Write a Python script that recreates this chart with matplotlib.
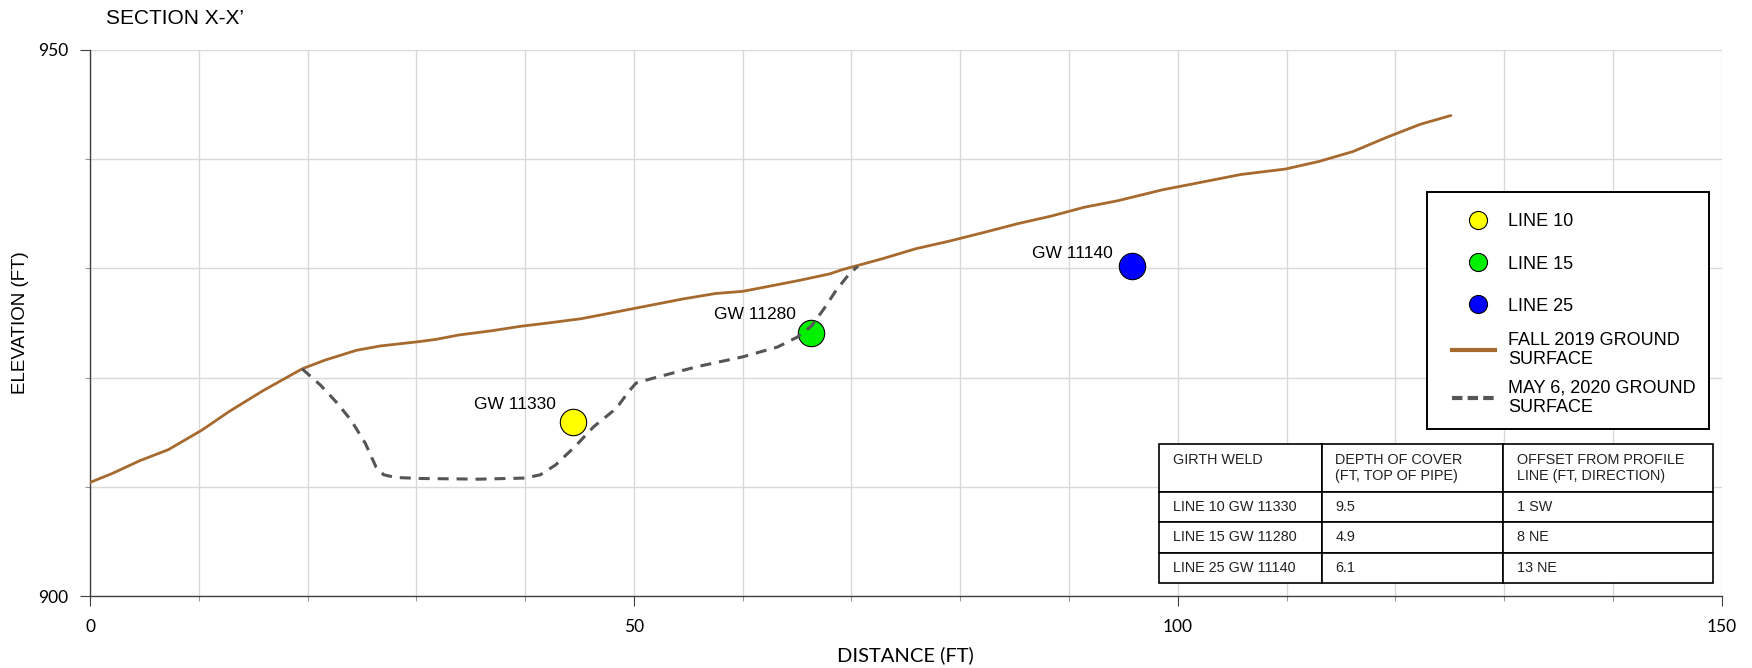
import matplotlib
matplotlib.use('Agg')
import numpy as np
import matplotlib.pyplot as plt
from matplotlib.lines import Line2D
from matplotlib.legend_handler import HandlerLine2D
from matplotlib.ticker import MultipleLocator

plt.rcParams['font.family'] = ['Liberation Sans', 'DejaVu Sans']

# FALL 2019 ground surface (distance ft, elevation ft)
fall_x = [0, 2.0, 4.6, 7.2, 10.3, 12.8, 15.9, 19.5, 21.6, 24.5, 26.7, 30.3, 31.8,
          33.9, 37.0, 39.6, 42.1, 45.2, 47.8, 51.4, 54.5, 57.5, 60.0, 62.1, 65.2,
          68.0, 69.2, 70.7, 72.9, 75.9, 79.0, 82.2, 85.3, 88.4, 91.4, 94.5, 98.6,
          101.7, 105.8, 109.9, 113.0, 116.1, 119.2, 122.3, 125.1]
fall_y = [910.4, 911.2, 912.4, 913.4, 915.2, 916.9, 918.8, 920.8, 921.6, 922.5, 922.9,
          923.3, 923.5, 923.9, 924.3, 924.7, 925.0, 925.4, 925.9, 926.6, 927.2, 927.7,
          927.9, 928.3, 928.9, 929.5, 929.9, 930.3, 930.9, 931.8, 932.5, 933.3, 934.1,
          934.8, 935.6, 936.2, 937.2, 937.8, 938.6, 939.1, 939.8, 940.7, 942.0, 943.2,
          944.0]

# MAY 6, 2020 ground surface
may_x = [19.5, 21.2, 22.6, 24.0, 25.3, 26.3, 27.0, 28.1, 30.5, 35.8, 40.0, 41.4,
         42.8, 44.6, 46.3, 48.4, 49.5, 50.2, 51.6, 55.8, 60.0, 63.2, 65.0, 66.3,
         67.4, 68.6, 69.8, 70.6]
may_y = [920.8, 919.3, 917.8, 916.1, 914.0, 911.8, 911.1, 910.85, 910.76, 910.7,
         910.8, 911.1, 912.0, 913.7, 915.5, 917.2, 918.7, 919.5, 919.9, 921.0, 921.9,
         922.8, 923.7, 924.7, 926.2, 928.0, 929.5, 930.2]

# girth welds
weld_names = ['GW 11330', 'GW 11280', 'GW 11140']
weld_lines = ['LINE 10', 'LINE 15', 'LINE 25']
weld_x = [44.4, 66.3, 95.8]
weld_y = [915.9, 924.1, 930.2]
weld_colors = ['#FFFF00', '#00F000', '#0000FF']
label_offsets = [(-12, 13), (-11, 13.5), (-14, 9.5)]

# depth of cover table
table_header = ['GIRTH WELD\n', 'DEPTH OF COVER\n(FT, TOP OF PIPE)',
                'OFFSET FROM PROFILE\nLINE (FT, DIRECTION)']
table_rows = [['LINE 10 GW 11330', '9.5', '1 SW'],
              ['LINE 15 GW 11280', '4.9', '8 NE'],
              ['LINE 25 GW 11140', '6.1', '13 NE']]

brown = '#A66A2E'
dash_grey = '#555555'


class PlacedHandler(HandlerLine2D):
    # puts the legend line between x0..x1 and at height y (all in font sizes)
    def __init__(self, x0, x1, y, **kw):
        super().__init__(**kw)
        self.x0, self.x1, self.y = x0, x1, y

    def create_artists(self, legend, orig_handle, xdescent, ydescent, width,
                       height, fontsize, trans):
        arts = super().create_artists(legend, orig_handle, xdescent, ydescent,
                                      width, height, fontsize, trans)
        for a in arts:
            n = len(a.get_xdata())
            a.set_xdata(np.linspace(self.x0 * fontsize, self.x1 * fontsize, n))
            a.set_ydata(np.full(n, self.y * fontsize))
        return arts


fig = plt.figure(figsize=(17.52, 6.68), dpi=100)
ax = fig.add_axes([0.05137, 0.10778, 0.93134, 0.81737])

ax.plot(fall_x, fall_y, color=brown, lw=2.0, zorder=3, solid_capstyle='round')
ax.plot(may_x, may_y, color=dash_grey, lw=2.2, dashes=(3.6, 2.6), zorder=4)

for i in range(len(weld_names)):
    ax.plot(weld_x[i], weld_y[i], 'o', ms=19, mfc=weld_colors[i], mec='black',
            mew=0.8, zorder=3)
    ax.annotate(weld_names[i], (weld_x[i], weld_y[i]), xytext=label_offsets[i],
                textcoords='offset points', ha='right', va='center', fontsize=12.5)

ax.set_xlim(0, 150)
ax.set_ylim(900, 950)
ax.xaxis.set_major_locator(MultipleLocator(50))
ax.xaxis.set_minor_locator(MultipleLocator(10))
ax.yaxis.set_major_locator(MultipleLocator(50))
ax.yaxis.set_minor_locator(MultipleLocator(10))
ax.grid(True, which='both', color='#d9d9d9', lw=1.0)
ax.set_axisbelow(True)
for s in ['top', 'right']:
    ax.spines[s].set_visible(False)
for s in ['left', 'bottom']:
    ax.spines[s].set_color('#404040')
    ax.spines[s].set_linewidth(1.0)
ax.tick_params(which='major', length=7.2, width=0.8, color='#404040')
ax.tick_params(which='minor', length=3.6, width=0.6, color='#808080')
ax.tick_params(axis='x', which='major', pad=9)
ax.tick_params(axis='y', which='major', pad=8.4)
for lab in ax.get_xticklabels() + ax.get_yticklabels():
    lab.set_fontfamily('Lato')
    lab.set_fontsize(12.5)

ax.set_xlabel('DISTANCE (FT)', fontsize=14.5, fontfamily='Lato')
ax.xaxis.set_label_coords(0.5, -0.092)
fig.text(0.0118, 0.5165, 'ELEVATION (FT)', rotation=90, ha='center', va='center',
         fontsize=13.5)
fig.text(0.0605, 0.9716, 'SECTION X-X\u2019', ha='left', va='center', fontsize=15)

# legend
handles = []
hmap = {}
for i in range(len(weld_lines)):
    h = Line2D([], [], ls='none', marker='o', ms=13, mfc=weld_colors[i],
               mec='black', mew=0.8)
    handles.append(h)
    hmap[h] = PlacedHandler(0.0, 4.2, 0.35)
h = Line2D([], [], color=brown, lw=3)
handles.append(h)
hmap[h] = PlacedHandler(0.665, 3.05, 0.35)
h = Line2D([], [], color=dash_grey, lw=3, dashes=(2.5, 1.25))
handles.append(h)
hmap[h] = PlacedHandler(0.665, 3.05, 0.35)
labels = weld_lines + ['FALL 2019 GROUND\nSURFACE', 'MAY 6, 2020 GROUND\nSURFACE']
leg = ax.legend(handles, labels, handler_map=hmap, loc='upper left',
                bbox_to_anchor=(0.8194, 0.740), borderaxespad=0, fontsize=13,
                frameon=True, fancybox=False, edgecolor='black', framealpha=1,
                labelspacing=0.6, handlelength=3.13, handleheight=2.3,
                handletextpad=0.64, borderpad=0.72)
leg.get_frame().set_linewidth(1.4)

# table
tab = ax.table(cellText=table_rows, colLabels=table_header, cellLoc='left',
               colLoc='left', colWidths=[0.2943, 0.3268, 0.3789],
               bbox=[0.6550, 0.0233, 0.3396, 0.2558])
tab.auto_set_font_size(False)
tab.set_fontsize(10.4)
tab.set_zorder(6)
pads = [0.085, 0.075, 0.065]
for (r, c), cell in tab.get_celld().items():
    cell.set_edgecolor('black')
    cell.set_linewidth(1.2)
    cell.set_facecolor('white')
    cell.PAD = pads[c]
    cell.set_height(0.48 if r == 0 else 0.305)
    cell.get_text().set_color('#222222')

fig.savefig('out.png', dpi=100)
